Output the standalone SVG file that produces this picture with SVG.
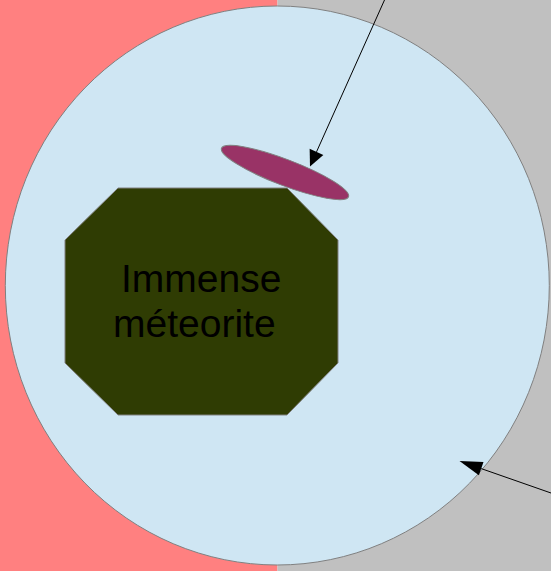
<svg xmlns="http://www.w3.org/2000/svg" width="551" height="571" viewBox="0 0 551 571">
<style>
.edge{stroke:#808080;stroke-width:1}
.lbl{font-family:"Liberation Sans",Arial,sans-serif;font-size:39px;fill:#000}
.conn{stroke:#000;stroke-width:1;fill:none}
.head{fill:#000;stroke:none}
</style>
<g id="background">
<rect x="0" y="0" width="277.5" height="571" fill="#FF8080"/>
<rect x="277.5" y="0" width="273.5" height="571" fill="#C0C0C0"/>
</g>
<g id="world">
<ellipse cx="277.3" cy="285.5" rx="272" ry="279.5" fill="#CFE6F3" class="edge"/>
</g>
<g id="meteorite">
<polygon points="118,188 287,188 338,240 338,363 287,415 118,415 65,363 65,240" fill="#2F3C03" class="edge"/>
<text class="lbl" x="121" y="292">Immense</text>
<text class="lbl" x="113" y="337">méteorite</text>
</g>
<g id="disc">
<ellipse cx="285" cy="172.5" rx="68" ry="13" transform="rotate(20.9 285 172.5)" fill="#993366" class="edge"/>
</g>
<g id="connectors">
<line class="conn" x1="384.5" y1="0" x2="316.5" y2="151.9"/>
<polygon class="head" points="310,166.5 323.35,154.96 309.65,148.84"/>
<line class="conn" x1="551" y1="493" x2="481.2" y2="468.6"/>
<polygon class="head" points="459.5,461 483.5,462 478.9,475.2"/>
</g>
</svg>
